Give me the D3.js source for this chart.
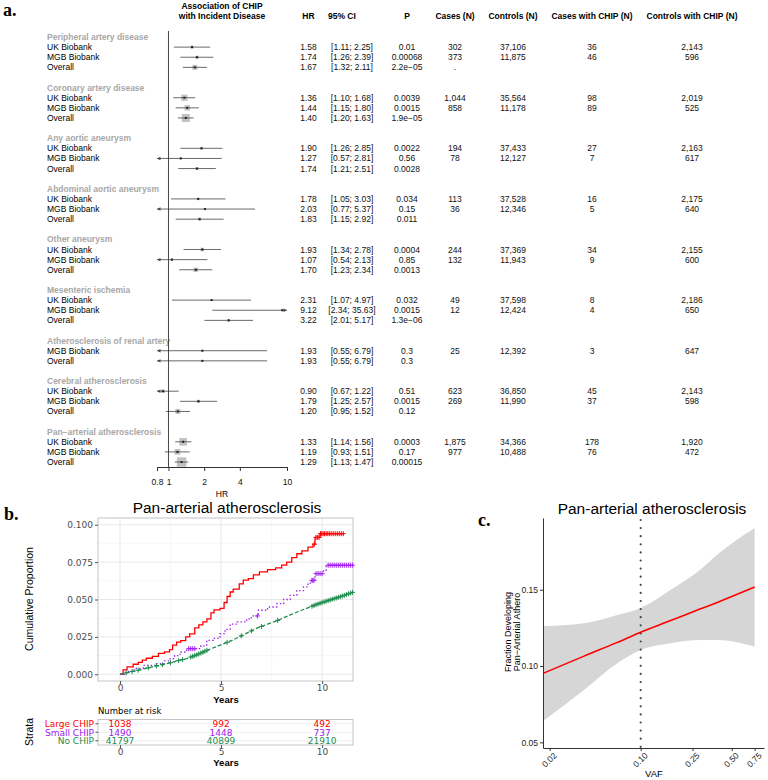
<!DOCTYPE html>
<html><head><meta charset="utf-8">
<script src="https://cdn.jsdelivr.net/npm/d3@7"></script>
<style>body{margin:0;background:#fff}svg{display:block;font-family:"Liberation Sans",Arial,Helvetica,sans-serif}</style>
</head><body><svg id="c" width="768" height="780"></svg>
<script>
// ================= Panel a data =================
const diseases = ["Peripheral artery disease","Coronary artery disease","Any aortic aneurysm","Abdominal aortic aneurysm","Other aneurysm","Mesenteric ischemia","Atherosclerosis of renal artery","Cerebral atherosclerosis","Pan\u2212arterial atherosclerosis"];
const rowDisease = [0,0,0, 1,1,1, 2,2,2, 3,3,3, 4,4,4, 5,5,5, 6,6, 7,7,7, 8,8,8];
const rowCohort = ["UK Biobank","MGB Biobank","Overall","UK Biobank","MGB Biobank","Overall","UK Biobank","MGB Biobank","Overall","UK Biobank","MGB Biobank","Overall","UK Biobank","MGB Biobank","Overall","UK Biobank","MGB Biobank","Overall","MGB Biobank","Overall","UK Biobank","MGB Biobank","Overall","UK Biobank","MGB Biobank","Overall"];
const hr     = [1.58,1.74,1.67, 1.36,1.44,1.40, 1.90,1.27,1.74, 1.78,2.03,1.83, 1.93,1.07,1.70, 2.31,9.12,3.22, 1.93,1.93, 0.90,1.79,1.20, 1.33,1.19,1.29];
const ciLow  = [1.11,1.26,1.32, 1.10,1.15,1.20, 1.26,0.57,1.21, 1.05,0.77,1.15, 1.34,0.54,1.23, 1.07,2.34,2.01, 0.55,0.55, 0.67,1.25,0.95, 1.14,0.93,1.13];
const ciHigh = [2.25,2.39,2.11, 1.68,1.80,1.63, 2.85,2.81,2.51, 3.03,5.37,2.92, 2.78,2.13,2.34, 4.97,35.63,5.17, 6.79,6.79, 1.22,2.57,1.52, 1.56,1.51,1.47];
const pValues = ["0.01","0.00068","2.2e\u221205","0.0039","0.0015","1.9e\u221205","0.0022","0.56","0.0028","0.034","0.15","0.011","0.0004","0.85","0.0013","0.032","0.0015","1.3e\u221206","0.3","0.3","0.51","0.0015","0.12","0.0003","0.17","0.00015"];
const casesN = ["302","373",".","1,044","858","","194","78","","113","36","","244","132","","49","12","","25","","623","269","","1,875","977",""];
const controlsN = ["37,106","11,875","","35,564","11,178","","37,433","12,127","","37,528","12,346","","37,369","11,943","","37,598","12,424","","12,392","","36,850","11,990","","34,366","10,488",""];
const casesChipN = ["36","46","","98","89","","27","7","","16","5","","34","9","","8","4","","3","","45","37","","178","76",""];
const controlsChipN = ["2,143","596","","2,019","525","","2,163","617","","2,175","640","","2,155","600","","2,186","650","","647","","2,143","598","","1,920","472",""];
const weights = [3,3,8, 12,9,20, 2,1,3, 2,1,3, 4,2,6, 1,1,2, 1,1, 4,3,8, 18,10,28];
const hrTicks = [0.8,1,2,4,10];

// ================= Panel b data =================
const strata = ["Large CHIP","Small CHIP","No CHIP"];
const strataColors = ["#ff0000","#a020f0","#1f8b4c"];
const yearTicks = [0,5,10];
const propTicks = [0,0.025,0.05,0.075,0.1];
const largeCurve = [[0,0],[0.15,0.003],[0.35,0.005],[0.65,0.0067],[0.9,0.008],[1.1,0.0095],[1.3,0.0107],[1.6,0.012],[1.9,0.014],[2.2,0.015],[2.45,0.0165],[2.6,0.0195],[2.8,0.0215],[3.0,0.0225],[3.25,0.025],[3.45,0.027],[3.7,0.031],[3.9,0.033],[4.1,0.035],[4.3,0.037],[4.5,0.041],[4.65,0.043],[4.95,0.044],[5.15,0.048],[5.3,0.052],[5.45,0.055],[5.6,0.057],[5.9,0.0605],[6.1,0.063],[6.35,0.064],[6.6,0.0665],[6.9,0.0685],[7.3,0.070],[7.7,0.0712],[8.0,0.073],[8.25,0.075],[8.5,0.078],[8.75,0.0806],[9.0,0.0825],[9.3,0.085],[9.55,0.087],[9.65,0.0915],[9.9,0.094],[11.05,0.094]];
const smallCurve = [[0,0],[0.3,0.002],[0.7,0.004],[1.15,0.006],[1.8,0.0071],[2.2,0.009],[2.48,0.0105],[2.7,0.0125],[2.97,0.0149],[3.3,0.0171],[4.0,0.019],[4.29,0.0227],[4.6,0.024],[4.95,0.0272],[5.2,0.030],[5.45,0.0335],[5.8,0.035],[6.27,0.037],[6.5,0.039],[6.85,0.0428],[7.3,0.045],[7.76,0.0472],[8.1,0.050],[8.42,0.0528],[8.75,0.056],[9.08,0.0584],[9.3,0.061],[9.49,0.0628],[9.65,0.0673],[10.07,0.0695],[10.2,0.0729],[11.55,0.0729]];
const noCurve = [[0,0],[0.5,0.0015],[1.0,0.003],[1.6,0.005],[2.3,0.007],[2.8,0.0088],[3.3,0.0105],[3.8,0.013],[4.3,0.016],[4.9,0.0192],[5.6,0.023],[6.2,0.027],[6.8,0.031],[7.3,0.0335],[7.8,0.036],[8.3,0.039],[8.8,0.0418],[9.4,0.045],[9.9,0.0475],[10.4,0.0497],[11.0,0.0523],[11.55,0.055]];
const largeCensor = [9.62,9.7,9.78,9.85,9.92,9.98,10.05,10.12,10.2,10.28,10.36,10.45,10.55,10.65,10.75,10.85,10.95,11.05];
const smallCensor = [3.4,3.5,3.6,3.7,6.8,9.5,9.55,9.6,9.7,9.8,9.9,10.0,10.3,10.4,10.5,10.6,10.7,10.8,10.9,11.0,11.1,11.2,11.3,11.4,11.5];
const noCensor = [0.3,0.6,0.9,1.4,1.8,2.1,2.5,2.9,3.1,3.5,3.6,3.7,3.8,3.9,4.0,4.1,4.2,4.3,5.3,6.0,6.5,7.0,7.8,9.5,9.6,9.7,9.8,9.9,10.0,10.1,10.2,10.3,10.4,10.5,10.6,10.7,10.8,10.9,11.0,11.1,11.2,11.3,11.4,11.5];
const atRisk = [[1038,992,492],[1490,1448,737],[41797,40899,21910]];

// ================= Panel c data =================
const vaf       = [0.0178,0.0367,0.0661,0.10,0.17,0.285,0.387,0.75];
const fitProb   = [0.0952,0.1065,0.1155,0.1222,0.1298,0.1373,0.1417,0.1518];
const lowerProb = [0.064,0.0843,0.1018,0.1105,0.1149,0.117,0.117,0.1127];
const upperProb = [0.1262,0.128,0.1334,0.138,0.150,0.163,0.173,0.1904];
const vafTicks = [0.02,0.1,0.25,0.5,0.75];
const fracTicks = [0.05,0.1,0.15];
const vafThreshold = 0.10;

const svg = d3.select("#c");
svg.append("rect").attr("width",768).attr("height",780).attr("fill","#fff");
const WIDE = "'DejaVu Sans',Verdana,sans-serif";

// ================= Panel a =================
const A = svg.append("g");
A.append("text").attr("x",3).attr("y",16).attr("font-family","'Liberation Serif',serif").attr("font-weight","bold").attr("font-size",18).text("a.");
const fx = d3.scaleLog().domain([0.8,10]).range([157,287]);
const FS = 8.5;
const rowY = k => 37 + k*10.12;
let k = 0; const headK = []; const rowK = [];
diseases.forEach((d,g)=>{ headK.push(k); k++; rowDisease.forEach((rg,i)=>{ if(rg===g){ rowK[i]=k; k++; } }); k++; });

A.append("text").attr("x",222).attr("y",9).attr("text-anchor","middle").attr("font-weight","bold").attr("font-size",FS).text("Association of CHIP");
A.append("text").attr("x",222).attr("y",19).attr("text-anchor","middle").attr("font-weight","bold").attr("font-size",FS).text("with Incident Disease");
const colX = [308.5,328,407,455,513,592,692];
const colAnchor = ["middle","start","middle","middle","middle","middle","middle"];
["HR","95% CI","P","Cases (N)","Controls (N)","Cases with CHIP (N)","Controls with CHIP (N)"].forEach((h,i)=>{
  A.append("text").attr("x",colX[i]).attr("y",19).attr("text-anchor",colAnchor[i]).attr("font-weight","bold").attr("font-size",FS).text(h);
});
A.selectAll("text.dh").data(diseases).join("text").attr("class","dh")
  .attr("x",47).attr("y",(d,i)=>rowY(headK[i])+3).attr("font-weight","bold").attr("font-size",FS).attr("fill","#a8a8a8").text(d=>d);
const rows = rowCohort.map((c,i)=>({i,c}));
const fmt2 = d3.format(".2f");
const rowG = A.selectAll("g.row").data(rows).join("g").attr("class","row").attr("transform",d=>`translate(0,${rowY(rowK[d.i])})`);
rowG.append("text").attr("x",47).attr("y",3).attr("font-size",FS).text(d=>d.c);
const cols = [d=>fmt2(hr[d.i]), d=>`[${fmt2(ciLow[d.i])}; ${fmt2(ciHigh[d.i])}]`, d=>pValues[d.i], d=>casesN[d.i], d=>controlsN[d.i], d=>casesChipN[d.i], d=>controlsChipN[d.i]];
const colValX = [308.5,352,407,455,513,592,692];
cols.forEach((f,ci)=>{ rowG.append("text").attr("x",colValX[ci]).attr("y",3).attr("text-anchor","middle").attr("font-size",FS).attr("fill","#111").text(f); });
const boxSize = d3.scaleSqrt().domain([0,28]).range([0,9.5]);
rowG.append("rect").attr("x",d=>fx(hr[d.i])-boxSize(weights[d.i])/2).attr("y",d=>-boxSize(weights[d.i])/2)
  .attr("width",d=>boxSize(weights[d.i])).attr("height",d=>boxSize(weights[d.i])).attr("fill","#c2c2c2");
rowG.append("line").attr("x1",d=>fx(Math.max(ciLow[d.i],0.8))).attr("x2",d=>fx(Math.min(ciHigh[d.i],10))).attr("y1",0).attr("y2",0).attr("stroke","#444").attr("stroke-width",0.8);
rowG.append("rect").attr("x",d=>fx(hr[d.i])-1).attr("y",-1).attr("width",2).attr("height",2).attr("fill","#222");
rowG.filter(d=>ciLow[d.i]<0.8).append("path").attr("d",d=>{const x=fx(0.8);return `M${x},0L${x+3.5},-1.7L${x+3.5},1.7Z`;}).attr("fill","#444");
rowG.filter(d=>ciHigh[d.i]>10).append("path").attr("d",d=>{const x=fx(10);return `M${x},0L${x-3.5},-1.7L${x-3.5},1.7Z`;}).attr("fill","#444");
A.append("line").attr("x1",fx(1)).attr("x2",fx(1)).attr("y1",31).attr("y2",467).attr("stroke","#333").attr("stroke-width",0.9);
const ax = A.append("g").attr("transform","translate(0,467)").call(d3.axisBottom(fx).tickValues(hrTicks).tickFormat(d3.format("")).tickSize(4).tickSizeOuter(0).tickPadding(8));
ax.selectAll("text").attr("font-size",FS).attr("fill","#111").attr("font-family",null);
ax.selectAll("line,path").attr("stroke","#333");
A.append("text").attr("x",222).attr("y",497).attr("text-anchor","middle").attr("font-size",FS).text("HR");

// ================= Panel b =================
const B = svg.append("g");
B.append("text").attr("x",4).attr("y",520).attr("font-family","'Liberation Serif',serif").attr("font-weight","bold").attr("font-size",18).text("b.");
const bx = d3.scaleLinear().domain([-1.09,11.53]).range([98,353]);
const by = d3.scaleLinear().domain([-0.0045,0.1045]).range([681,518]);
B.append("text").attr("x",227).attr("y",513).attr("text-anchor","middle").attr("font-size",15.5).text("Pan-arterial atherosclerosis");
[0.0125,0.0375,0.0625,0.0875].forEach(v=>B.append("line").attr("x1",98).attr("x2",353).attr("y1",by(v)).attr("y2",by(v)).attr("stroke","#f3f3f3").attr("stroke-width",0.6));
[2.5,7.5].forEach(v=>B.append("line").attr("y1",518).attr("y2",681).attr("x1",bx(v)).attr("x2",bx(v)).attr("stroke","#f3f3f3").attr("stroke-width",0.6));
propTicks.forEach(v=>B.append("line").attr("x1",98).attr("x2",353).attr("y1",by(v)).attr("y2",by(v)).attr("stroke","#e8e8e8").attr("stroke-width",1));
yearTicks.forEach(v=>B.append("line").attr("y1",518).attr("y2",681).attr("x1",bx(v)).attr("x2",bx(v)).attr("stroke","#e8e8e8").attr("stroke-width",1));
B.append("rect").attr("x",98).attr("y",518).attr("width",255).attr("height",163).attr("fill","none").attr("stroke","#c4c4c4").attr("stroke-width",1);
const byAx = B.append("g").attr("transform","translate(98,0)").call(d3.axisLeft(by).tickValues(propTicks).tickFormat(d3.format(".3f")).tickSize(3).tickPadding(2));
byAx.select(".domain").remove();
byAx.selectAll("text").attr("font-size",9).attr("fill","#4d4d4d").attr("font-family",WIDE);
byAx.selectAll("line").attr("stroke","#555");
const bxAx = B.append("g").attr("transform","translate(0,681)").call(d3.axisBottom(bx).tickValues(yearTicks).tickSize(3).tickPadding(0.5));
bxAx.select(".domain").remove();
bxAx.selectAll("text").attr("font-size",9).attr("fill","#4d4d4d").attr("font-family",WIDE);
bxAx.selectAll("line").attr("stroke","#555");
B.append("text").attr("x",226).attr("y",702.5).attr("text-anchor","middle").attr("font-size",9.5).attr("font-weight","bold").text("Years");
B.append("text").attr("transform","translate(33,599) rotate(-90)").attr("text-anchor","middle").attr("font-size",10.5).text("Cumulative Proportion");
const curves = [largeCurve,smallCurve,noCurve];
const censors = [largeCensor,smallCensor,noCensor];
const dashes = [null,"1.4,2.2","4,2"];
const stepCurve = [true,true,false];
curves.forEach((pts,s)=>{
  const line = d3.line().x(d=>bx(d[0])).y(d=>by(d[1])).curve(stepCurve[s]?d3.curveStepAfter:d3.curveLinear);
  B.append("path").datum(pts).attr("d",line).attr("fill","none").attr("stroke",strataColors[s]).attr("stroke-width",1.3).attr("stroke-dasharray",dashes[s]);
  const valAt = stepCurve[s] ? (t=>{let v=0;for(const p of pts){if(p[0]<=t)v=p[1];else break;}return v;})
                             : d3.scaleLinear().domain(pts.map(p=>p[0])).range(pts.map(p=>p[1]));
  B.append("g").selectAll("path").data(censors[s]).join("path")
    .attr("d",t=>{const x=bx(t),y=by(valAt(t));return `M${x-2.5},${y}h5M${x},${y-2.5}v5`;})
    .attr("stroke",strataColors[s]).attr("stroke-width",1);
});
// risk table
B.append("text").attr("x",98).attr("y",714).attr("font-size",8.5).attr("font-family",WIDE).text("Number at risk");
const ry = d3.scaleBand().domain(strata).range([719.5,745]);
ry.domain().forEach(s=>B.append("line").attr("x1",98).attr("x2",353).attr("y1",ry(s)+ry.bandwidth()/2).attr("y2",ry(s)+ry.bandwidth()/2).attr("stroke","#efefef"));
B.append("rect").attr("x",98).attr("y",719.5).attr("width",255).attr("height",25.5).attr("fill","none").attr("stroke","#c4c4c4");
strata.forEach((s,i)=>{
  const yc = ry(s)+ry.bandwidth()/2;
  B.append("text").attr("x",94).attr("y",yc+3.3).attr("text-anchor","end").attr("font-size",9).attr("font-family",WIDE).attr("fill",strataColors[i]).text(s);
  B.append("line").attr("x1",95.5).attr("x2",98).attr("y1",yc).attr("y2",yc).attr("stroke","#555");
  yearTicks.forEach((t,j)=>B.append("text").attr("x",bx(t)).attr("y",yc+3.3).attr("text-anchor","middle").attr("font-size",9).attr("font-family",WIDE).attr("fill",strataColors[i]).text(atRisk[i][j]));
});
const rAx = B.append("g").attr("transform","translate(0,745)").call(d3.axisBottom(bx).tickValues(yearTicks).tickSize(3).tickPadding(1));
rAx.select(".domain").remove();
rAx.selectAll("text").attr("font-size",9).attr("fill","#4d4d4d").attr("font-family",WIDE);
rAx.selectAll("line").attr("stroke","#555");
B.append("text").attr("x",226).attr("y",766).attr("text-anchor","middle").attr("font-size",9.5).attr("font-weight","bold").text("Years");
B.append("text").attr("transform","translate(33,732) rotate(-90)").attr("text-anchor","middle").attr("font-size",10.5).text("Strata");

// ================= Panel c =================
const C = svg.append("g");
C.append("text").attr("x",478).attr("y",526).attr("font-family","'Liberation Serif',serif").attr("font-weight","bold").attr("font-size",18).text("c.");
const cx = d3.scaleLog().domain([0.01778,0.885]).range([543,764]);
const cy = d3.scaleLinear().domain([0.0463,0.197]).range([748,518]);
C.append("text").attr("x",652).attr("y",513.5).attr("text-anchor","middle").attr("font-size",15.5).text("Pan-arterial atherosclerosis");
const band = vaf.map((v,i)=>({v,lo:lowerProb[i],hi:upperProb[i],f:fitProb[i]}));
C.append("path").datum(band).attr("d",d3.area().x(d=>cx(d.v)).y0(d=>cy(d.lo)).y1(d=>cy(d.hi)).curve(d3.curveMonotoneX)).attr("fill","#d6d6d6");
C.append("line").attr("x1",cx(vafThreshold)).attr("x2",cx(vafThreshold)).attr("y1",520).attr("y2",748)
  .attr("stroke","#2f4f4f").attr("stroke-width",2.2).attr("stroke-linecap","round").attr("stroke-dasharray","0,8.1");
C.append("path").datum(band).attr("d",d3.line().x(d=>cx(d.v)).y(d=>cy(d.f)).curve(d3.curveMonotoneX)).attr("fill","none").attr("stroke","#ff0000").attr("stroke-width",1.6);
const cyAx = C.append("g").attr("transform","translate(543,0)").call(d3.axisLeft(cy).tickValues(fracTicks).tickFormat(d3.format(".2f")).tickSize(3).tickSizeOuter(0).tickPadding(2));
cyAx.selectAll("text").attr("font-size",8.5).attr("fill","#1a1a1a").attr("font-family",null);
cyAx.selectAll("line,path").attr("stroke","#333");
const cxAx = C.append("g").attr("transform","translate(0,748)").call(d3.axisBottom(cx).tickValues(vafTicks).tickFormat(d3.format(".2f")).tickSize(3).tickSizeOuter(0));
cxAx.selectAll("text").attr("font-size",8.5).attr("fill","#1a1a1a").attr("font-family",null)
  .attr("y",0).attr("dy","0.35em").attr("text-anchor","end").attr("transform","translate(5,6) rotate(-45)");
cxAx.selectAll("line,path").attr("stroke","#333");
C.append("text").attr("x",654).attr("y",777).attr("text-anchor","middle").attr("font-size",9.5).text("VAF");
C.append("text").attr("transform","translate(511,632) rotate(-90)").attr("text-anchor","middle").attr("font-size",9).text("Fraction Developing");
C.append("text").attr("transform","translate(520,632) rotate(-90)").attr("text-anchor","middle").attr("font-size",9).text("Pan\u2212Arterial Athero");
</script></body></html>
